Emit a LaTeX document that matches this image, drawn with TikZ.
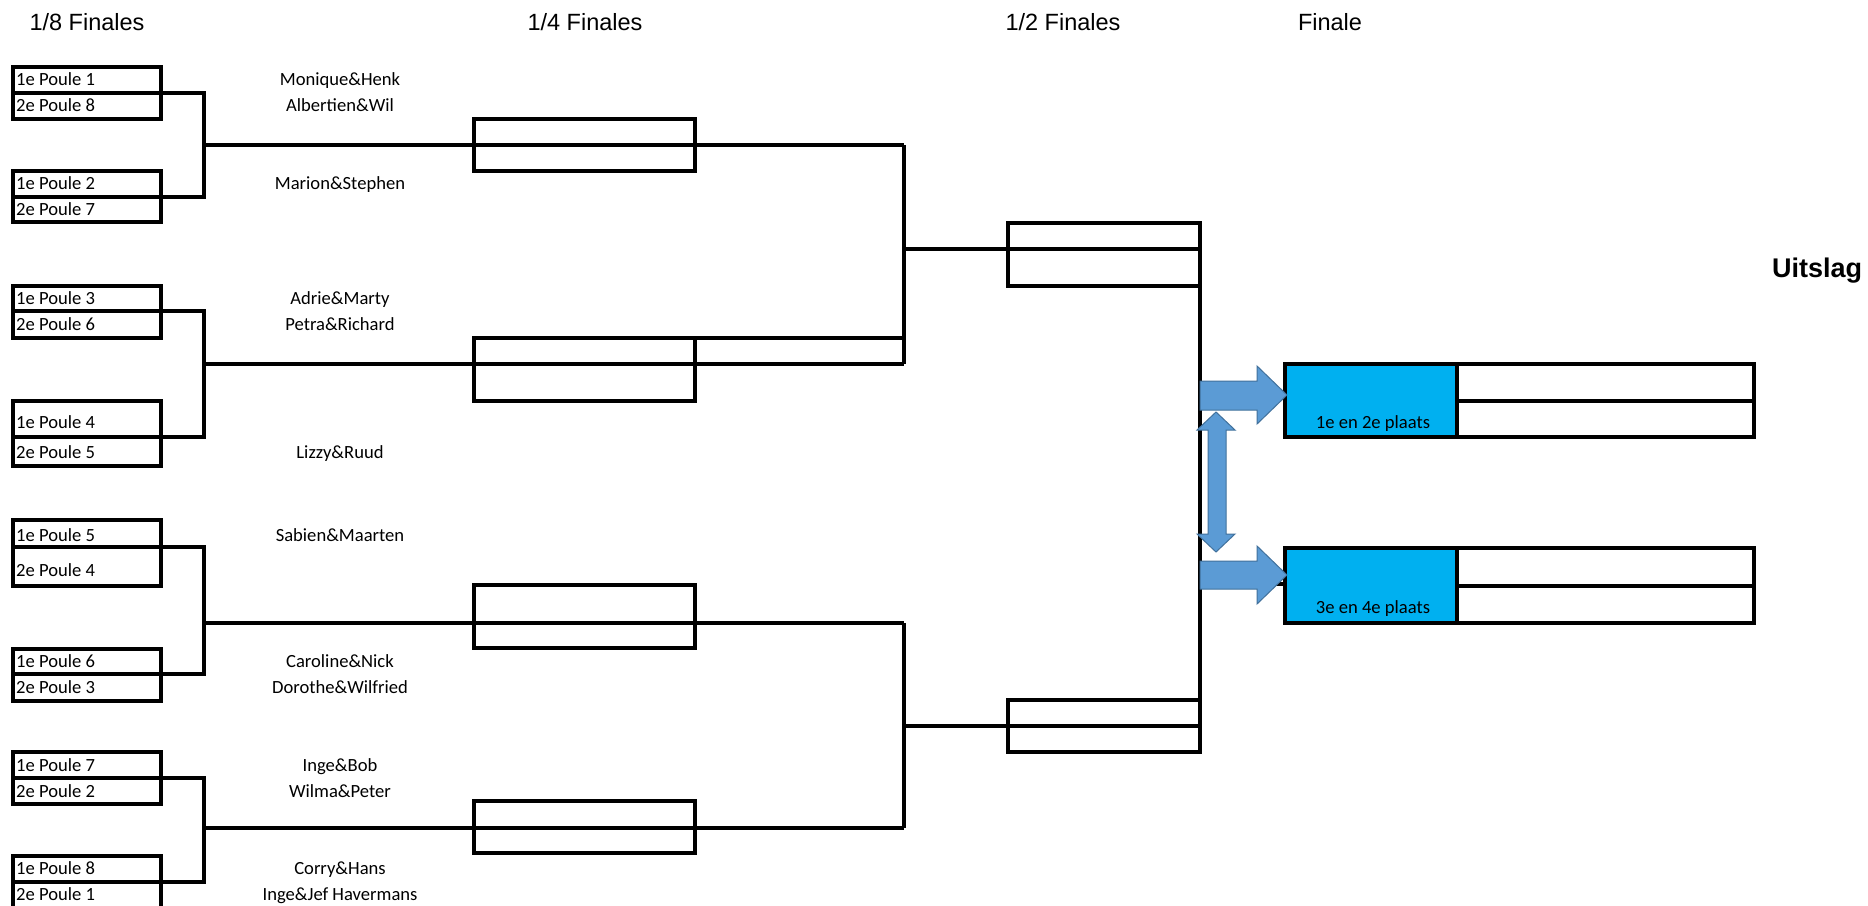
\documentclass[tikz,border=0pt]{standalone}
\usepackage{fontspec}
\setmainfont{Carlito}
\newfontfamily\arialfont{Liberation Sans}
\usetikzlibrary{fit}
\definecolor{cyanbox}{HTML}{00B0F0}
\definecolor{arrowfill}{HTML}{5B9BD5}
\definecolor{arrowline}{HTML}{41719C}
\tikzset{
  cellbox/.style={draw=black, line width=3.4pt, inner sep=0pt, outer sep=0pt},
  bline/.style={draw=black, line width=3.4pt},
  celltext/.style={anchor=base west, inner sep=0pt, font=\fontsize{18.6}{20}\selectfont},
  nametext/.style={anchor=base, inner sep=0pt, font=\fontsize{18.6}{20}\selectfont},
  placetext/.style={anchor=base, inner sep=0pt, font=\fontsize{18.6}{20}\selectfont},
  header/.style={anchor=base, inner sep=0pt, font=\arialfont\fontsize{23.5}{26}\selectfont},
  bigarrow/.style={fill=arrowfill, draw=arrowline, line width=1pt, line join=miter},
}
\begin{document}
\begin{tikzpicture}[x=1pt,y=-1pt]
\useasboundingbox (0,0) rectangle (1868,905);
\fill[white] (0,0) rectangle (1868,905);
% headers
\node[header] (h1) at (87,30) {1/8 Finales};
\node[header] (h2) at (585,30) {1/4 Finales};
\node[header] (h3) at (1063,30) {1/2 Finales};
\node[header] (h4) at (1330,30) {Finale};
\node[anchor=base, inner sep=0pt, font=\arialfont\bfseries\fontsize{27}{30}\selectfont] (uit) at (1817,277) {Uitslag};
% round of 16 cells
\node[cellbox, fit={(13,67)(161,93)}] (g1a) {};
\node[cellbox, fit={(13,93)(161,119)}] (g1b) {};
\node[cellbox, fit={(13,171)(161,197)}] (g2a) {};
\node[cellbox, fit={(13,197)(161,222)}] (g2b) {};
\node[cellbox, fit={(13,286)(161,311)}] (g3a) {};
\node[cellbox, fit={(13,311)(161,338)}] (g3b) {};
\node[cellbox, fit={(13,401)(161,437)}] (g4a) {};
\node[cellbox, fit={(13,437)(161,466)}] (g4b) {};
\node[cellbox, fit={(13,520)(161,547)}] (g5a) {};
\node[cellbox, fit={(13,547)(161,586)}] (g5b) {};
\node[cellbox, fit={(13,649)(161,674)}] (g6a) {};
\node[cellbox, fit={(13,674)(161,701)}] (g6b) {};
\node[cellbox, fit={(13,752)(161,778)}] (g7a) {};
\node[cellbox, fit={(13,778)(161,804)}] (g7b) {};
\node[cellbox, fit={(13,856)(161,882)}] (g8a) {};
\node[cellbox, fit={(13,882)(161,914)}] (g8b) {};
% cell texts
\node[celltext] (t1) at (16,85) {1e Poule 1};
\node[celltext] (t2) at (16,111) {2e Poule 8};
\node[celltext] (t3) at (16,189) {1e Poule 2};
\node[celltext] (t4) at (16,215) {2e Poule 7};
\node[celltext] (t5) at (16,304) {1e Poule 3};
\node[celltext] (t6) at (16,330) {2e Poule 6};
\node[celltext] (t7) at (16,428) {1e Poule 4};
\node[celltext] (t8) at (16,458) {2e Poule 5};
\node[celltext] (t9) at (16,541) {1e Poule 5};
\node[celltext] (t10) at (16,576) {2e Poule 4};
\node[celltext] (t11) at (16,667) {1e Poule 6};
\node[celltext] (t12) at (16,693) {2e Poule 3};
\node[celltext] (t13) at (16,771) {1e Poule 7};
\node[celltext] (t14) at (16,797) {2e Poule 2};
\node[celltext] (t15) at (16,874) {1e Poule 8};
\node[celltext] (t16) at (16,900) {2e Poule 1};
% names
\node[nametext] (n1) at (340,85) {Monique\&Henk};
\node[nametext] (n2) at (340,111) {Albertien\&Wil};
\node[nametext] (n3) at (340,189) {Marion\&Stephen};
\node[nametext] (n4) at (340,304) {Adrie\&Marty};
\node[nametext] (n5) at (340,330) {Petra\&Richard};
\node[nametext] (n6) at (340,458) {Lizzy\&Ruud};
\node[nametext] (n7) at (340,541) {Sabien\&Maarten};
\node[nametext] (n8) at (340,667) {Caroline\&Nick};
\node[nametext] (n9) at (340,693) {Dorothe\&Wilfried};
\node[nametext] (n10) at (340,771) {Inge\&Bob};
\node[nametext] (n11) at (340,797) {Wilma\&Peter};
\node[nametext] (n12) at (340,874) {Corry\&Hans};
\node[nametext] (n13) at (340,900) {Inge\&Jef Havermans};
% quarter final cells
\node[cellbox, fit={(474,119)(695,145)}] (q1a) {};
\node[cellbox, fit={(474,145)(695,171)}] (q1b) {};
\node[cellbox, fit={(474,338)(695,364)}] (q2a) {};
\node[cellbox, fit={(474,364)(695,401)}] (q2b) {};
\node[cellbox, fit={(474,585)(695,623)}] (q3a) {};
\node[cellbox, fit={(474,623)(695,648)}] (q3b) {};
\node[cellbox, fit={(474,801)(695,828)}] (q4a) {};
\node[cellbox, fit={(474,828)(695,853)}] (q4b) {};
% semi final cells
\node[cellbox, fit={(1008,223)(1200,249)}] (s1a) {};
\node[cellbox, fit={(1008,249)(1200,286)}] (s1b) {};
\node[cellbox, fit={(1008,700)(1200,726)}] (s2a) {};
\node[cellbox, fit={(1008,726)(1200,752)}] (s2b) {};
% final cells
\node[cellbox, fill=cyanbox, fit={(1285,364)(1457,437)}] (f1) {};
\node[cellbox, fit={(1457,364)(1754,401)}] (f1a) {};
\node[cellbox, fit={(1457,401)(1754,437)}] (f1b) {};
\node[cellbox, fill=cyanbox, fit={(1285,548)(1457,623)}] (f2) {};
\node[cellbox, fit={(1457,548)(1754,586)}] (f2a) {};
\node[cellbox, fit={(1457,586)(1754,623)}] (f2b) {};
\node[placetext] (p1) at (1373,428) {1e en 2e plaats};
\node[placetext] (p2) at (1373,613) {3e en 4e plaats};
% junction coordinates
\coordinate (j1) at (204,145);
\coordinate (j2) at (204,364);
\coordinate (j3) at (204,623);
\coordinate (j4) at (204,828);
\coordinate (k1) at (904,145);
\coordinate (k2) at (904,364);
\coordinate (k2t) at (904,338);
\coordinate (k3) at (904,623);
\coordinate (k4) at (904,828);
\coordinate (m1) at (904,249);
\coordinate (m2) at (904,726);
\coordinate (e3) at (1200,584);
% connectors round of 16 -> quarter
\draw[bline] (g1a.south east) -| (j1) |- (g2a.south east);
\draw[bline] (g3a.south east) -| (j2) |- (g4a.south east);
\draw[bline] (g5a.south east) -| (j3) |- (g6a.south east);
\draw[bline] (g7a.south east) -| (j4) |- (g8a.south east);
\draw[bline] (j1) -- (k1);
\draw[bline] (j2) -- (k2);
\draw[bline] (j3) -- (k3);
\draw[bline] (j4) -- (k4);
\draw[bline] (q2a.north east) -- (k2t);
% quarter -> semi
\draw[bline] (k1) -- (k2);
\draw[bline] (k3) -- (k4);
\draw[bline] (m1) -- (s1a.south west);
\draw[bline] (m2) -- (s2a.south west);
% semi -> final
\draw[bline] (s1a.north east) -- (s2b.south east);
\draw[bline] (e3) -- (f2.west |- e3);
% block arrows
\path[bigarrow] (1200,381) -- (1257,381) -- (1257,366) -- (1287,395) -- (1257,424) -- (1257,410) -- (1200,410) -- cycle;
\path[bigarrow] (1200,561) -- (1257,561) -- (1257,546) -- (1287,575) -- (1257,604) -- (1257,589) -- (1200,589) -- cycle;
\path[bigarrow] (1216,412) -- (1235,430) -- (1226,430) -- (1226,534) -- (1235,534) -- (1216,552) -- (1197,534) -- (1208,534) -- (1208,430) -- (1197,430) -- cycle;
\end{tikzpicture}
\end{document}
